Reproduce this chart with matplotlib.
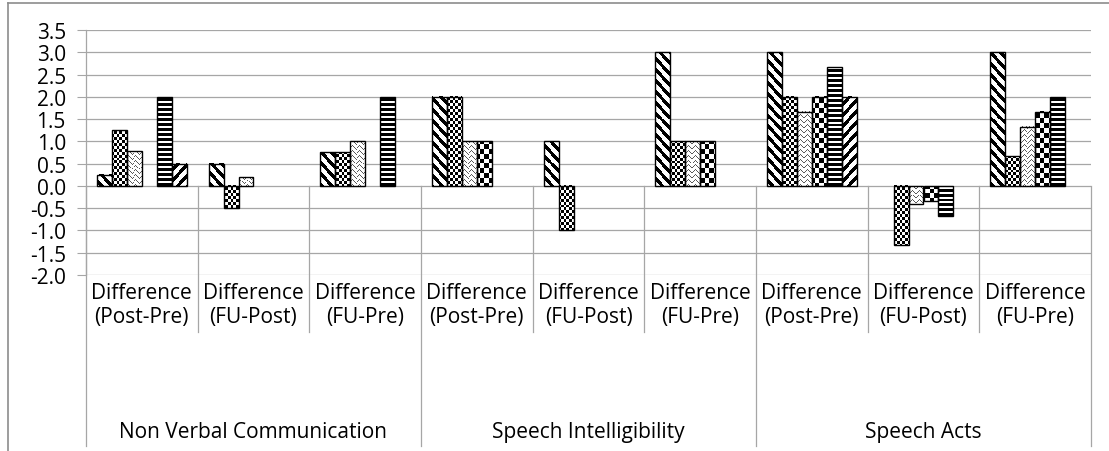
import numpy as np
import matplotlib.pyplot as plt
from matplotlib.lines import Line2D

plt.rcParams["font.family"] = ["Open Sans", "DejaVu Sans"]

# categories (two-level axis)
SUBCATS = ["Difference\n(Post-Pre)", "Difference\n(FU-Post)", "Difference\n(FU-Pre)"] * 3
GROUPS = ["Non Verbal Communication", "Speech Intelligibility", "Speech Acts"]
YTICKS = [-2.0, -1.5, -1.0, -0.5, 0.0, 0.5, 1.0, 1.5, 2.0, 2.5, 3.0, 3.5]

# six series, one value per sub-category
S1 = [0.25, 0.5, 0.75, 2.0, 1.0, 3.0, 3.0, 0.0, 3.0]
S2 = [1.25, -0.5, 0.75, 2.0, -1.0, 1.0, 2.0, -1.33, 0.67]
S3 = [0.78, 0.2, 1.0, 1.0, 0.0, 1.0, 1.67, -0.4, 1.33]
S4 = [0.0, 0.0, 0.0, 1.0, 0.0, 1.0, 2.0, -0.33, 1.67]
S5 = [2.0, 0.0, 2.0, 0.0, 0.0, 0.0, 2.67, -0.67, 2.0]
S6 = [0.5, 0.0, 0.0, 0.0, 0.0, 0.0, 2.0, 0.0, 0.0]
SERIES = [S1, S2, S3, S4, S5, S6]
PATTERNS = ["down", "smallcheck", "zigzag", "bigcheck", "horiz", "up"]

GRID = "#a6a6a6"
FS = 15
W_PX, H_PX = 1109, 452


def texture(kind, gr, gc):
    # excel-like fill patterns, in screen pixel coords so they line up
    ink = 0.0
    if kind == "down":
        dark = (gc - gr) % 11 < 5
    elif kind == "up":
        dark = (gc + gr) % 11 < 5
    elif kind == "smallcheck":
        dark = ((gr // 3) + (gc // 3)) % 2 == 0
    elif kind == "bigcheck":
        dark = ((gr // 5) + (gc // 5)) % 2 == 0
    elif kind == "horiz":
        dark = gr % 5 < 3
    else:  # zigzag / chevrons, grey
        dark = (gr + np.abs(gc % 8 - 4)) % 5 < 1
        ink = 0.35
    return np.where(dark, ink, 1.0)


fig = plt.figure(figsize=(W_PX / 100, H_PX / 100), dpi=100)
ax = fig.add_axes([86 / W_PX, 1 - 276 / H_PX, (1091 - 86) / W_PX, (276 - 31) / H_PX])
ax.set_xlim(-0.5, 8.5)
ax.set_ylim(-2.0, 3.5)

x = np.arange(len(SUBCATS))
w = 1 / 7.45
for k, (vals, kind) in enumerate(zip(SERIES, PATTERNS)):
    bars = ax.bar(x + (k - 2.5) * w, vals, w, facecolor="none", edgecolor="black", lw=1.0, zorder=3)
    for b, v in zip(bars, vals):
        if v == 0:
            b.set_visible(False)
            continue
        bb = b.get_bbox()
        y0, y1 = min(bb.y0, bb.y1), max(bb.y0, bb.y1)
        px0, py0 = ax.transData.transform((bb.x0, y0))
        px1, py1 = ax.transData.transform((bb.x1, y1))
        ncol = int(round(px1 - px0)) + 1
        nrow = int(round(py1 - py0)) + 1
        gr = np.arange(nrow)[:, None] + int(round(H_PX - py1))
        gc = np.arange(ncol)[None, :] + int(round(px0))
        ax.imshow(texture(kind, gr, gc), extent=(bb.x0, bb.x1, y0, y1), cmap="gray", vmin=0, vmax=1,
                  interpolation="nearest", aspect="auto", zorder=2)

ax.set_xlim(-0.5, 8.5)
ax.set_ylim(-2.0, 3.5)
ax.set_yticks(YTICKS)
ax.set_yticklabels([f"{v:.1f}" for v in YTICKS], fontsize=FS)
ax.tick_params(axis="y", direction="out", length=6.5, color=GRID, pad=8)
ax.set_xticks([])
ax.yaxis.grid(True, color=GRID, lw=0.9)
ax.set_axisbelow(True)
for s in ("top", "right", "bottom"):
    ax.spines[s].set_visible(False)
ax.spines["left"].set_color(GRID)
ax.spines["left"].set_linewidth(0.9)

# category separators below the zero line
trans = ax.get_xaxis_transform()
y_zero = (0 - (-2.0)) / 5.5
for xb in np.arange(-0.5, 9.0, 1.0):
    ybot = -0.698 if xb in (-0.5, 2.5, 5.5, 8.5) else -0.233
    ax.plot([xb, xb], [y_zero, ybot], transform=trans, color=GRID, lw=0.9, clip_on=False, zorder=1)

for i, lab in enumerate(SUBCATS):
    ax.text(x[i], -0.12, lab, transform=trans, ha="center", va="center", fontsize=FS, linespacing=1.15)
for g, lab in enumerate(GROUPS):
    ax.text(3 * g + 1, -0.637, lab, transform=trans, ha="center", va="center", fontsize=FS)

# chart area border (cropped at right and bottom)
fig.add_artist(Line2D([8 / W_PX, 1], [1 - 4 / H_PX, 1 - 4 / H_PX], color="#8c8c8c", lw=1.2))
fig.add_artist(Line2D([8 / W_PX, 8 / W_PX], [0, 1 - 4 / H_PX], color="#8c8c8c", lw=1.2))

fig.savefig("out.png", dpi=100)
